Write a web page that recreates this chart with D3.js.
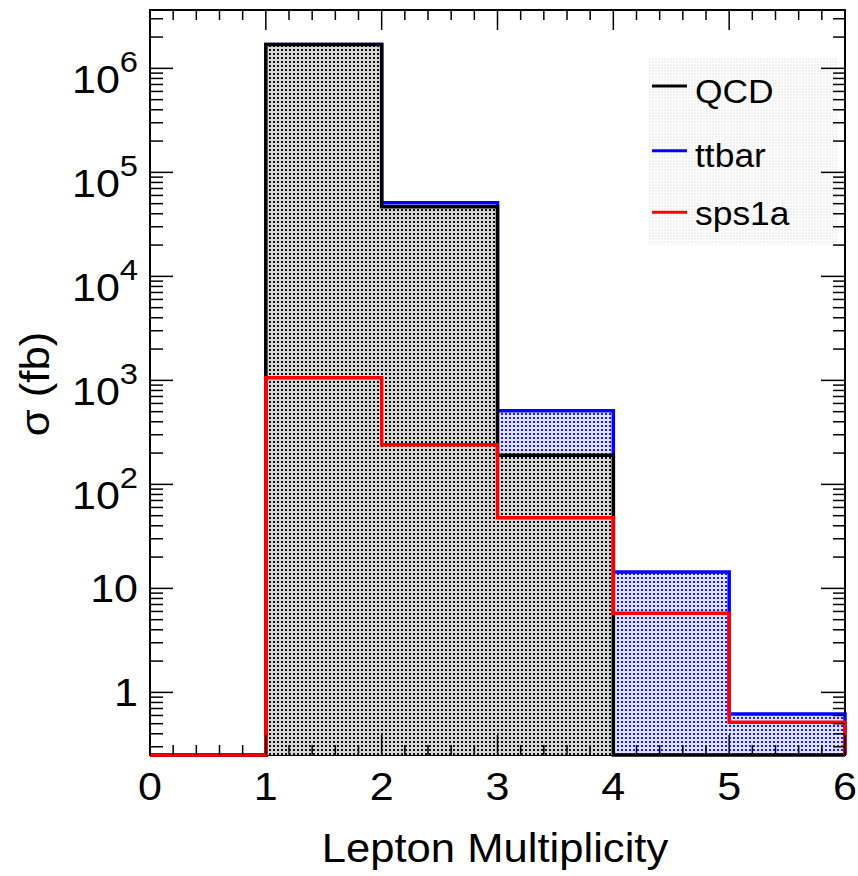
<!DOCTYPE html>
<html>
<head>
<meta charset="utf-8">
<script src="https://cdn.jsdelivr.net/npm/d3@7"></script>
<style>
  body { margin: 0; background: #fff; }
  text { font-family: "Liberation Sans", Arial, Helvetica, sans-serif; fill: #000; }
</style>
</head>
<body>
<div id="page"></div>
<script>
// bins and contents (fb)
const binEdges = [0, 1, 2, 3, 4, 5, 6];
const qcd   = [0, 1.7e6, 4.67e4, 191, 0, 0];
const ttbar = [0, 1.7e6, 5.1e4, 510, 14.4, 0.62];   // stacked on top of QCD
const sps1a = [0, 1060, 241, 47.7, 5.75, 0.515];
const xTicks = [0, 1, 2, 3, 4, 5, 6];
const yExponents = [0, 1, 2, 3, 4, 5, 6];
const legendNames = ['QCD', 'ttbar', 'sps1a'];

const width = 858;
const height = 876;
const plot = { left: 150, right: 845, top: 10, bottom: 755 };
const yMin = 0.25, yMax = 3.64e6;
const sx = 1.09;   // ROOT's Helvetica renders a bit wider

const x = d3.scaleLinear().domain([0, 6]).range([plot.left, plot.right]);
const y = d3.scaleLog().domain([yMin, yMax]).range([plot.bottom, plot.top]);

const svg = d3.select('#page')
              .append('svg')
              .attr('width', width)
              .attr('height', height);

const defs = svg.append('defs');

function dotPattern(id, bg, dot, size) {
    const p = defs.append('pattern')
                  .attr('id', id)
                  .attr('patternUnits', 'userSpaceOnUse')
                  .attr('width', size)
                  .attr('height', size);
    if (bg) p.append('rect').attr('width', size).attr('height', size).attr('fill', bg);
    p.append('rect').attr('x', 1).attr('y', 1).attr('width', 2).attr('height', 2).attr('fill', dot);
}
dotPattern('patQCD', '#d6d6d6', '#111', 4);
dotPattern('patTT', '#e0e0ff', '#1a1aff', 4);
dotPattern('patLeg', null, '#f1f1f1', 3);

// frame first, ROOT redraws the axes later
svg.append('rect')
   .attr('x', plot.left)
   .attr('y', plot.top)
   .attr('width', plot.right - plot.left)
   .attr('height', plot.bottom - plot.top)
   .attr('fill', 'none')
   .attr('stroke', '#000')
   .attr('stroke-width', 2);

function stepPoints(vals) {
    const pts = [[binEdges[0], yMin]];
    vals.forEach((v, i) => {
        const c = Math.max(v, yMin);
        pts.push([binEdges[i], c], [binEdges[i + 1], c]);
    });
    pts.push([binEdges[binEdges.length - 1], yMin]);
    return pts;
}

const line = d3.line().x(d => x(d[0])).y(d => y(d[1]));

const hists = [
    { name: 'ttbar', vals: ttbar, color: '#0000ff', fill: 'url(#patTT)' },
    { name: 'QCD',   vals: qcd,   color: '#000000', fill: 'url(#patQCD)' },
    { name: 'sps1a', vals: sps1a, color: '#ff0000', fill: 'none' }
];

const hg = svg.append('g');
hists.forEach(h => {
    hg.append('path')
      .attr('d', line(stepPoints(h.vals)) + 'Z')
      .attr('fill', h.fill)
      .attr('stroke', 'none');
    hg.append('path')
      .attr('d', line(stepPoints(h.vals)))
      .attr('fill', 'none')
      .attr('stroke', h.color)
      .attr('stroke-width', 3.5)
      .attr('stroke-linejoin', 'miter');
});

// legend
const leg = { x0: 648, x1: 838, y0: 57, y1: 245 };
svg.append('rect')
   .attr('x', leg.x0)
   .attr('y', leg.y0)
   .attr('width', leg.x1 - leg.x0)
   .attr('height', leg.y1 - leg.y0)
   .attr('fill', 'url(#patLeg)');

const legLineY = [86, 150.7, 212.3];
const legTextY = [102.5, 167, 225];
hists.slice().sort((a, b) => legendNames.indexOf(a.name) - legendNames.indexOf(b.name))
     .forEach((h, i) => {
    svg.append('line')
       .attr('x1', 652).attr('x2', 687)
       .attr('y1', legLineY[i]).attr('y2', legLineY[i])
       .attr('stroke', h.color)
       .attr('stroke-width', 3);
    svg.append('text')
       .attr('transform', `translate(695,${legTextY[i]}) scale(${sx},1)`)
       .style('font-size', '32.5px')
       .text(h.name);
});

// axes ticks (all four sides)
const axes = svg.append('g').attr('stroke', '#000').attr('stroke-width', 1.5);

const xMinor = d3.range(0, 30).map(i => i * 0.2).filter(v => Math.abs(v - Math.round(v)) > 1e-6);
xTicks.forEach(t => {
    axes.append('line').attr('x1', x(t)).attr('x2', x(t)).attr('y1', plot.bottom).attr('y2', plot.bottom - 20);
    axes.append('line').attr('x1', x(t)).attr('x2', x(t)).attr('y1', plot.top).attr('y2', plot.top + 20);
});
xMinor.forEach(t => {
    axes.append('line').attr('x1', x(t)).attr('x2', x(t)).attr('y1', plot.bottom).attr('y2', plot.bottom - 10);
    axes.append('line').attr('x1', x(t)).attr('x2', x(t)).attr('y1', plot.top).attr('y2', plot.top + 10);
});

const yMajor = [-1].concat(yExponents).map(e => Math.pow(10, e)).filter(v => v >= yMin && v <= yMax);
const yMinorTicks = [];
[-1].concat(yExponents).forEach(e => {
    for (let k = 2; k <= 9; k++) {
        const v = k * Math.pow(10, e);
        if (v >= yMin && v <= yMax) yMinorTicks.push(v);
    }
});
yMajor.forEach(v => {
    axes.append('line').attr('x1', plot.left).attr('x2', plot.left + 23).attr('y1', y(v)).attr('y2', y(v));
    axes.append('line').attr('x1', plot.right).attr('x2', plot.right - 24).attr('y1', y(v)).attr('y2', y(v));
});
yMinorTicks.forEach(v => {
    axes.append('line').attr('x1', plot.left).attr('x2', plot.left + 13).attr('y1', y(v)).attr('y2', y(v));
    axes.append('line').attr('x1', plot.right).attr('x2', plot.right - 12).attr('y1', y(v)).attr('y2', y(v));
});

// x tick labels
xTicks.forEach(t => {
    svg.append('text')
       .attr('transform', `translate(${x(t)},800) scale(${sx},1)`)
       .attr('text-anchor', 'middle')
       .style('font-size', '39.5px')
       .text(t);
});

// y tick labels: 1, 10, then 10^n
yExponents.forEach(e => {
    const ty = y(Math.pow(10, e));
    const t = svg.append('text')
                 .attr('text-anchor', 'end')
                 .style('font-size', '39.5px');
    if (e < 2) {
        t.attr('transform', `translate(138,${ty + 13.5}) scale(${sx},1)`)
         .text(Math.pow(10, e));
    } else {
        t.attr('transform', `translate(138,${ty + 25}) scale(${sx},1)`);
        t.append('tspan').text('10');
        t.append('tspan').attr('dy', -21.6).style('font-size', '30px').text(e);
    }
});

// axis titles
svg.append('text')
   .attr('transform', `translate(495,861.5) scale(${sx},1)`)
   .attr('text-anchor', 'middle')
   .style('font-size', '40px')
   .text('Lepton Multiplicity');

svg.append('text')
   .attr('transform', `translate(49,384) rotate(-90) scale(${sx},1)`)
   .attr('text-anchor', 'middle')
   .style('font-size', '40px')
   .text('σ (fb)');
</script>
</body>
</html>
